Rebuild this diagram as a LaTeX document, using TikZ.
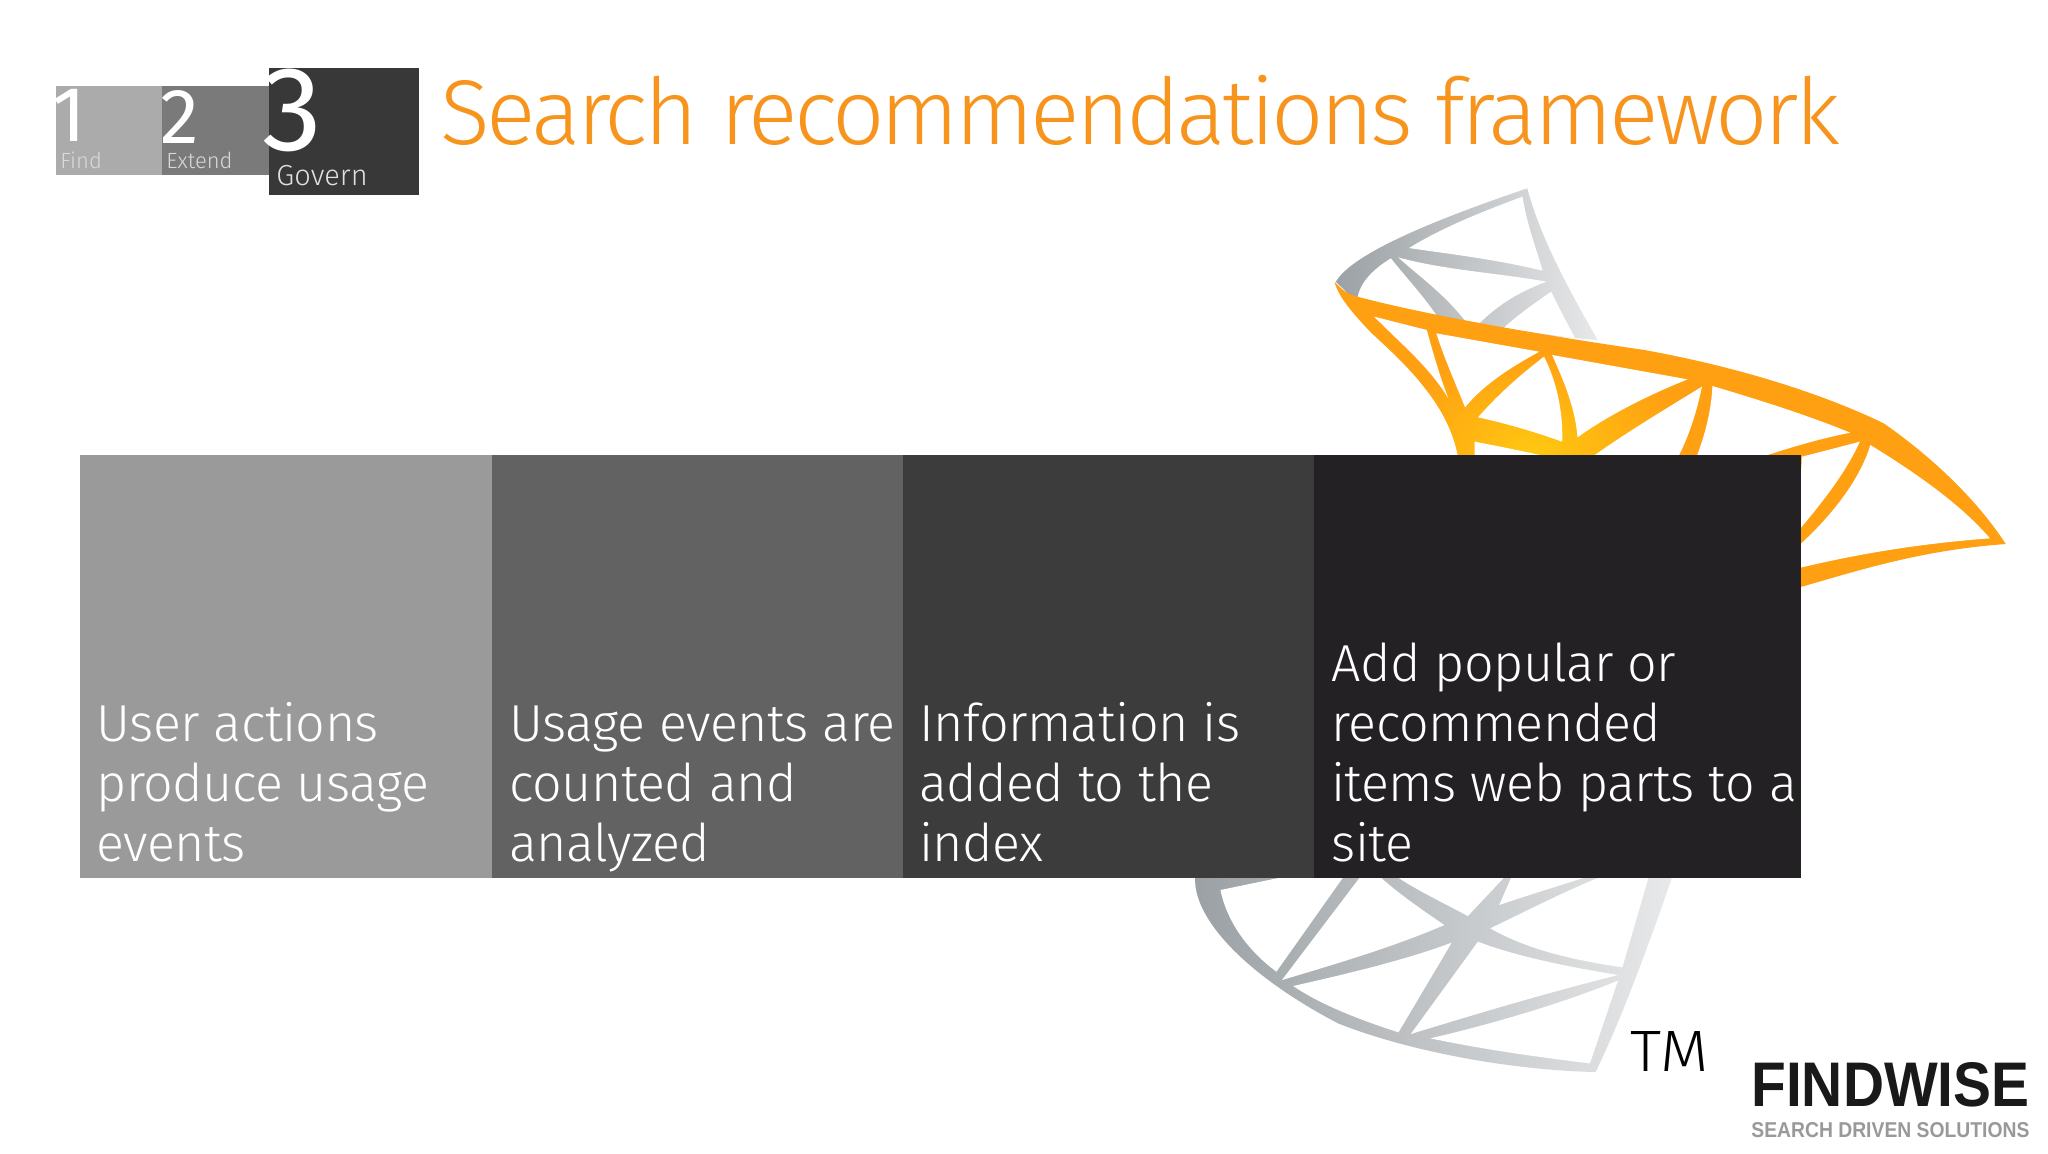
\documentclass[tikz,border=0pt]{standalone}
\usepackage{fontspec}
\setmainfont{Liberation Sans}
\newfontfamily\uf{Fira Sans Light}
\newfontfamily\ub[LetterSpace=-1.0]{Fira Sans Light}
\newfontfamily\ut[LetterSpace=-3.9]{Fira Sans Light}
\newfontfamily\ud{Fira Sans}
\definecolor{titleor}{HTML}{F7941D}
\definecolor{boxa}{HTML}{9A9A9A}
\definecolor{boxb}{HTML}{636263}
\definecolor{boxc}{HTML}{3D3C3D}
\definecolor{boxd}{HTML}{232123}
\definecolor{ora}{HTML}{FF9F12}
\definecolor{orb}{HTML}{FFC711}
\definecolor{grd}{HTML}{9AA0A4}
\definecolor{grl}{HTML}{E8E9EA}
\tikzset{
  panel/.style={anchor=north west,inner sep=0pt,outer sep=0pt,minimum height=211.5pt},
  paneltext/.style={anchor=base west,inner sep=0pt,text=white,font=\ub\fontsize{26}{30}\selectfont,align=left},
  logobox/.style={anchor=north west,inner sep=0pt,outer sep=0pt},
  digit/.style={anchor=base west,inner sep=0pt,text=white},
  win/.style={fill=white,draw=none},
  zoomA/.style={x=0.23923pt,y=-0.16667pt,xshift=650pt,yshift=-85pt},
  zoomB/.style={x=0.27996pt,y=-0.16667pt,xshift=585pt,yshift=-430pt},
}
\begin{document}
\begin{tikzpicture}[x=0.5pt,y=-0.5pt]
\useasboundingbox (0,0) rectangle (2048,1153);
\fill[white] (0,0) rectangle (2048,1153);
% upper grey strand
\begin{scope}[zoomA]
\begin{scope}
\clip (75,335) .. controls (110,250) and (280,150) .. (475,55) .. controls (500,190) and (550,330) .. (622,510) -- (300,470) -- (110,385) -- cycle;
\shade[left color=grd,right color=grl] (70,40) rectangle (630,520);
\end{scope}
\fill[win] (228,234) .. controls (300,170) and (390,120) .. (465,80) .. controls (475,170) and (495,240) .. (507,302) .. controls (400,265) and (300,250) .. cycle;
\fill[win] (190,265) .. controls (150,300) and (125,340) .. (120,385) -- (292,450) .. controls (260,380) and (220,320) .. cycle;
\fill[win] (205,262) .. controls (300,300) and (420,310) .. (515,335) .. controls (450,370) and (410,410) .. (375,460) -- (345,452) .. controls (300,370) and (250,320) .. cycle;
\fill[win] (525,365) .. controls (490,400) and (450,440) .. (425,475) -- (575,505) .. controls (555,450) and (540,410) .. cycle;
\end{scope}
% orange strand
\begin{scope}[zoomA]
\begin{scope}
\clip (72,335) .. controls (85,355) and (100,375) .. (120,380) .. controls (250,430) and (480,490) .. (720,540) .. controls (950,600) and (1120,690) .. (1220,760) .. controls (1330,870) and (1420,1000) .. (1475,1122) .. controls (1300,1140) and (1170,1200) .. (1049,1250) -- (330,1250) -- (330,855) .. controls (310,720) and (250,620) .. (150,490) .. controls (110,430) and (80,380) .. cycle;
\fill[ora] (60,320) rectangle (1490,1260);
\shade[inner color=orb,outer color=ora] (490,840) ellipse (330 and 300);
\end{scope}
\fill[win] (155,440) -- (265,480) .. controls (280,560) and (295,630) .. (310,685) .. controls (270,590) and (210,520) .. cycle;
\fill[win] (285,490) -- (500,545) .. controls (430,600) and (380,650) .. (345,712) .. controls (325,640) and (300,560) .. cycle;
\fill[win] (510,560) .. controls (455,620) and (410,680) .. (372,742) .. controls (430,760) and (490,785) .. (548,815) .. controls (550,720) and (535,630) .. cycle;
\fill[win] (527,555) -- (810,628) .. controls (720,680) and (640,740) .. (580,802) .. controls (575,710) and (550,630) .. cycle;
\fill[win] (840,650) .. controls (760,720) and (680,790) .. (615,856) -- (792,856) .. controls (815,790) and (830,720) .. cycle;
\fill[win] (862,648) .. controls (960,690) and (1060,735) .. (1150,788) .. controls (1090,805) and (1030,830) .. (975,856) -- (830,856) .. controls (850,780) and (860,710) .. cycle;
\fill[win] (365,815) .. controls (420,830) and (470,845) .. (505,856) -- (365,856) -- cycle;
\fill[win] (1170,815) .. controls (1130,830) and (1090,845) .. (1049,860) -- (1040,1085) .. controls (1090,1000) and (1140,910) .. cycle;
\fill[win] (1192,825) .. controls (1300,920) and (1385,1010) .. (1442,1105) .. controls (1300,1120) and (1170,1150) .. (1040,1195) -- (1040,1130) .. controls (1110,1040) and (1170,930) .. cycle;
\end{scope}
% lower grey strand
\begin{scope}[zoomB]
\begin{scope}
\clip (45,50) .. controls (40,170) and (130,340) .. (300,490) .. controls (420,570) and (600,630) .. (760,636) .. controls (800,500) and (850,280) .. (897,50) -- cycle;
\shade[left color=grd,right color=grl] (40,40) rectangle (900,640);
\end{scope}
\fill[win] (90,90) -- (205,50) -- (310,50) -- (190,335) .. controls (130,260) and (100,170) .. cycle;
\fill[win] (340,50) -- (200,360) .. controls (300,310) and (400,260) .. (490,195) .. controls (450,150) and (400,90) .. (375,50) -- cycle;
\fill[win] (220,378) .. controls (320,340) and (420,300) .. (503,248) -- (408,517) .. controls (340,480) and (270,435) .. cycle;
\fill[win] (550,245) .. controls (620,290) and (710,320) .. (800,345) .. controls (670,400) and (550,460) .. (430,522) -- cycle;
\fill[win] (465,535) .. controls (580,490) and (700,430) .. (800,362) -- (750,610) .. controls (650,590) and (550,565) .. cycle;
\fill[win] (572,205) .. controls (640,270) and (720,300) .. (808,322) -- (855,50) -- (770,50) .. controls (710,90) and (640,150) .. cycle;
\fill[win] (588,135) -- (610,50) -- (745,50) .. controls (690,80) and (640,105) .. cycle;
\fill[win] (405,50) -- (598,50) -- (532,168) .. controls (490,130) and (440,90) .. cycle;
\end{scope}
% panels
\node[panel,fill=boxa,minimum width=206pt] (p1) at (80,455) {};
\node[panel,fill=boxb,minimum width=205.5pt] (p2) at (492,455) {};
\node[panel,fill=boxc,minimum width=205.5pt] (p3) at (903,455) {};
\node[panel,fill=boxd,minimum width=243.5pt] (p4) at (1314,455) {};
\foreach \n/\x/\a/\b/\c in {t1a/96/User actions/produce usage/events,t2a/509/Usage events are/counted and/analyzed,t3a/919/Information is/added to the/index}{
  \node[paneltext] (\n1) at (\x,741) {\a};
  \node[paneltext] (\n2) at (\x,801) {\b};
  \node[paneltext] (\n3) at (\x,861) {\c};
}
\node[paneltext] (t4a) at (1331,681) {Add popular or};
\node[paneltext] (t4b) at (1331,741) {recommended};
\node[paneltext] (t4c) at (1331,801) {items web parts to a};
\node[paneltext] (t4d) at (1331,861) {site};
% title
\node[anchor=base west,inner sep=0pt,text=titleor,font=\ut\fontsize{46}{50}\selectfont] (title) at (440,144) {Search recommendations framework};
% logo
\node[logobox,fill=black!33,minimum width=53pt,minimum height=44.5pt] (l1) at (56,86) {};
\node[logobox,fill=black!52,minimum width=53.5pt,minimum height=44.5pt] (l2) at (162,86) {};
\node[logobox,fill=black!78,minimum width=75pt,minimum height=63.5pt] (l3) at (269,68) {};
\node[digit,font=\ud\fontsize{39}{40}\selectfont] (d1) at (52,141) {1};
\node[digit,font=\ud\fontsize{39}{40}\selectfont] (d2) at (160,143) {2};
\node[digit,font=\ud\fontsize{60}{62}\selectfont] (d3) at (262,150) {3};
\node[anchor=base west,inner sep=0pt,text=black!15,font=\uf\fontsize{11}{12}\selectfont] (find) at (60,168) {Find};
\node[anchor=base west,inner sep=0pt,text=black!15,font=\uf\fontsize{11}{12}\selectfont] (extend) at (166,168) {Extend};
\node[anchor=base west,inner sep=0pt,text=black!12,font=\uf\fontsize{14.5}{16}\selectfont] (govern) at (276,185) {Govern};
% marks
\node[anchor=south west,inner sep=0pt,text=black] (tm) at (1630,1072) {\resizebox{39pt}{20pt}{\uf TM}};
\node[anchor=south west,inner sep=0pt,text=black!90] (fw) at (1751,1107) {\resizebox{139pt}{22pt}{\textbf{FINDWISE}}};
\node[anchor=south west,inner sep=0pt,text=black!40] (fws) at (1751,1138) {\resizebox{139pt}{7.5pt}{\textbf{SEARCH DRIVEN SOLUTIONS}}};
\end{tikzpicture}
\end{document}
